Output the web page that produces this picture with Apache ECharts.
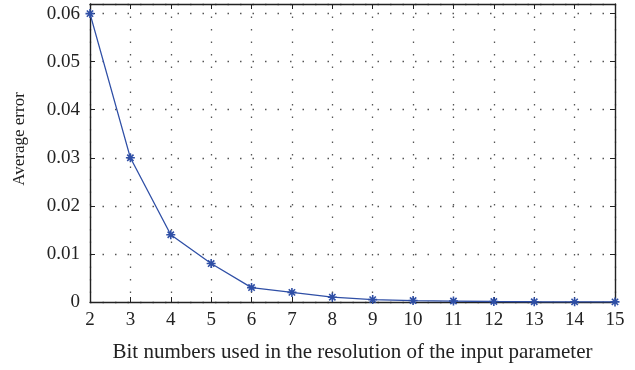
<!DOCTYPE html>
<html>
<head>
<meta charset="utf-8">
<script src="https://cdn.jsdelivr.net/npm/echarts@6/dist/echarts.min.js"></script>
<style>
  html, body { margin: 0; padding: 0; background: #fff; }
  #chart { width: 635px; height: 370px; }
</style>
</head>
<body>
<div id="chart"></div>
<script>
// bit numbers on the x axis
const bits = [2, 3, 4, 5, 6, 7, 8, 9, 10, 11, 12, 13, 14, 15];
// average error
const avgError = [0.06, 0.03, 0.014, 0.008, 0.003, 0.002, 0.001, 0.0005, 0.0003, 0.0002, 0.0001, 0.00005, 0.00003, 0.00002];
const yTicks = [0, 0.01, 0.02, 0.03, 0.04, 0.05, 0.06];

const font = 'Liberation Serif';
const lineColor = '#2f4fa6';
const axisColor = '#222';

// asterisk marker
const star = 'path://M5 0 L5 10 M0 5 L10 5 M1.5 1.5 L8.5 8.5 M1.5 8.5 L8.5 1.5';

const chart = echarts.init(document.getElementById('chart'));

const boxAxis = {
    axisLine: { show: true, onZero: false, lineStyle: { color: axisColor, width: 1.4 } },
    axisTick: { show: true, inside: true, length: 5, lineStyle: { color: axisColor, width: 1 } },
    splitLine: { show: false }
};
const dotted = { show: true, lineStyle: { color: '#555', type: [1.5, 11], width: 1.3 } };

chart.setOption({
    animation: false,
    grid: { left: 90, right: 20, top: 4, bottom: 68 },
    xAxis: [
        Object.assign({}, boxAxis, {
            type: 'value', min: 2, max: 15, interval: 1,
            name: 'Bit numbers used in the resolution of the input parameter',
            nameLocation: 'middle', nameGap: 40,
            nameTextStyle: { fontFamily: font, fontSize: 21, color: '#222' },
            axisLabel: { fontFamily: font, fontSize: 19, color: '#222', margin: 9 },
            splitLine: dotted
        }),
        Object.assign({}, boxAxis, {
            type: 'value', min: 2, max: 15, interval: 1, position: 'top',
            axisLabel: { show: false }
        })
    ],
    yAxis: [
        Object.assign({}, boxAxis, {
            type: 'value', min: 0, max: 0.062, interval: 0.01,
            name: 'Average error',
            nameLocation: 'middle', nameGap: 62,
            nameTextStyle: { fontFamily: font, fontSize: 17, color: '#222', padding: [0, 0, 0, 28] },
            axisLabel: {
                fontFamily: font, fontSize: 19, color: '#222', margin: 10,
                showMaxLabel: false,
                formatter: v => yTicks.some(t => Math.abs(t - v) < 1e-9) ? String(+v.toFixed(2)) : ''
            },
            splitLine: dotted
        }),
        Object.assign({}, boxAxis, {
            type: 'value', min: 0, max: 0.062, interval: 0.01, position: 'right',
            axisLabel: { show: false }
        })
    ],
    series: [{
        type: 'line',
        data: bits.map((b, i) => [b, avgError[i]]),
        symbol: star,
        symbolSize: 9,
        showSymbol: true,
        lineStyle: { color: lineColor, width: 1.3 },
        itemStyle: { color: lineColor, borderColor: lineColor, borderWidth: 1.6 }
    }]
});
</script>
</body>
</html>
